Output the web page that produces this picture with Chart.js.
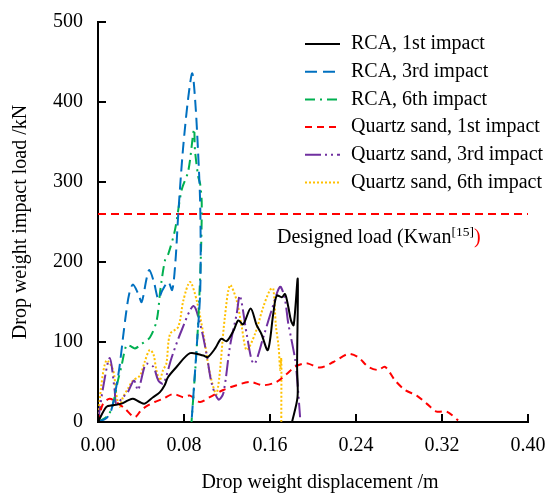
<!DOCTYPE html>
<html>
<head>
<meta charset="utf-8">
<script src="https://cdn.jsdelivr.net/npm/chart.js@4.4.1/dist/chart.umd.min.js"></script>
<style>
  body { margin: 0; background: #fff; }
  #wrap { width: 547px; height: 496px; position: relative; }
</style>
</head>
<body>
<div id="wrap"><canvas id="impactChart"></canvas></div>
<script>
// tick values
const xTicks = [0, 0.08, 0.16, 0.24, 0.32, 0.40];
const yTicks = [0, 100, 200, 300, 400, 500];
const designedLoad = 260;

// RCA, 1st impact
const rca1X = [0, 0.0078, 0.014, 0.0217, 0.028, 0.0326, 0.0388, 0.0434, 0.0512, 0.0574, 0.062, 0.0651, 0.0732, 0.0856, 0.098, 0.102, 0.109, 0.1145, 0.1197, 0.126, 0.1305, 0.135, 0.142, 0.1476, 0.152, 0.158, 0.163, 0.1662, 0.171, 0.174, 0.177, 0.1795, 0.182, 0.1858, 0.1852, 0.1856, 0.1805];
const rca1Y = [0, 19, 21, 23, 27, 29, 25, 23, 31, 37, 46, 56, 69, 86, 83, 81, 92, 104, 101, 114, 127, 122, 142, 121, 110, 90, 135, 158, 156, 160, 144, 127, 121, 179, 70, 31, 0];
// RCA, 3rd impact
const rca3X = [0, 0.008, 0.0124, 0.017, 0.020, 0.0233, 0.026, 0.029, 0.0325, 0.0375, 0.0406, 0.0453, 0.0478, 0.052, 0.0561, 0.060, 0.0654, 0.069, 0.072, 0.0747, 0.079, 0.084, 0.0877, 0.0905, 0.093, 0.0949, 0.0955, 0.095, 0.0924, 0.087];
const rca3Y = [0, 5, 15, 44, 69, 106, 135, 160, 172, 160, 150, 180, 190, 175, 154, 165, 175, 165, 200, 261, 340, 406, 436, 400, 340, 280, 220, 160, 105, 0];
// RCA, 6th impact
const rca6X = [0, 0.0093, 0.014, 0.0186, 0.0217, 0.0264, 0.030, 0.0344, 0.040, 0.0484, 0.0546, 0.058, 0.0623, 0.0654, 0.0716, 0.0778, 0.084, 0.0893, 0.0902, 0.0933, 0.095, 0.0965, 0.0955, 0.0924, 0.087];
const rca6Y = [0, 8, 23, 52, 69, 96, 95, 92, 97, 106, 127, 165, 202, 210, 240, 290, 314, 366, 340, 306, 298, 273, 200, 105, 0];
// Quartz sand, 1st impact
const qs1X = [0, 0.0047, 0.0109, 0.018, 0.0248, 0.0341, 0.0403, 0.0468, 0.0527, 0.0605, 0.070, 0.0794, 0.0856, 0.0949, 0.104, 0.1166, 0.129, 0.1414, 0.1538, 0.166, 0.1755, 0.1833, 0.191, 0.1956, 0.2065, 0.219, 0.2328, 0.242, 0.2514, 0.2607, 0.267, 0.2763, 0.2856, 0.2965, 0.3057, 0.315, 0.3244, 0.335];
const qs1Y = [0, 23, 29, 24, 17, 6, 15, 21, 25, 29, 35, 31, 33, 25, 31, 40, 46, 50, 46, 50, 60, 69, 73, 73, 68, 75, 85, 81, 69, 65, 69, 52, 40, 33, 23, 13, 13, 2];
// Quartz sand, 3rd impact
const qs3X = [0, 0.005, 0.0109, 0.0155, 0.017, 0.0233, 0.028, 0.0335, 0.0372, 0.0434, 0.0453, 0.0515, 0.0561, 0.0608, 0.0686, 0.0779, 0.0887, 0.0949, 0.101, 0.1058, 0.112, 0.1166, 0.1228, 0.129, 0.132, 0.1383, 0.143, 0.146, 0.1538, 0.1616, 0.1693, 0.1735, 0.177, 0.1795, 0.1835, 0.1855, 0.188];
const qs3Y = [0, 45, 80, 40, 23, 31, 38, 52, 40, 70, 73, 69, 52, 48, 81, 115, 145, 123, 85, 48, 28, 36, 95, 135, 158, 110, 77, 73, 106, 140, 169, 156, 123, 106, 77, 50, 6];
// Quartz sand, 6th impact
const qs6X = [0, 0.003, 0.0078, 0.014, 0.017, 0.020, 0.0233, 0.028, 0.0326, 0.039, 0.0434, 0.048, 0.0515, 0.0543, 0.0574, 0.0605, 0.0636, 0.067, 0.0747, 0.0794, 0.0856, 0.0918, 0.098, 0.1042, 0.1104, 0.118, 0.1228, 0.129, 0.1337, 0.1383, 0.146, 0.1538, 0.160, 0.163, 0.1655, 0.168, 0.1695, 0.1705, 0.1705];
const qs6Y = [0, 45, 77, 65, 35, 19, 31, 42, 52, 58, 75, 90, 85, 65, 52, 65, 73, 110, 119, 152, 175, 152, 110, 60, 35, 131, 171, 152, 119, 90, 110, 144, 165, 167, 120, 94, 65, 80, 0];

const pts = (xs, ys) => xs.map((x, i) => ({ x: x, y: ys[i] }));
const FONT = '"Liberation Serif", "Times New Roman", serif';

function series(label, xs, ys, color, dash) {
  return {
    label: label,
    data: pts(xs, ys),
    borderColor: color,
    backgroundColor: color,
    borderWidth: 2,
    borderDash: dash,
    showLine: true,
    pointRadius: 0,
    tension: 0.3
  };
}

const datasets = [
  series('RCA, 1st impact', rca1X, rca1Y, '#000000', []),
  series('RCA, 3rd impact', rca3X, rca3Y, '#0070C0', [12, 6]),
  series('RCA, 6th impact', rca6X, rca6Y, '#00B050', [10, 5, 2, 5]),
  series('Quartz sand, 1st impact', qs1X, qs1Y, '#FF0000', [7, 5]),
  series('Quartz sand, 3rd impact', qs3X, qs3Y, '#7030A0', [16, 4, 2, 4, 2, 4]),
  series('Quartz sand, 6th impact', qs6X, qs6Y, '#FFC000', [2, 2]),
  {
    label: 'designed',
    data: [{ x: xTicks[0], y: designedLoad }, { x: xTicks[xTicks.length - 1], y: designedLoad }],
    borderColor: '#FF0000',
    borderWidth: 2,
    borderDash: [8, 5],
    showLine: true,
    pointRadius: 0,
    tension: 0
  }
];

// inward tick marks, legend, x title and designed load label
const extras = {
  id: 'extras',
  afterDraw(chart) {
    const ctx = chart.ctx;
    const xs = chart.scales.x, ys = chart.scales.y;
    const area = chart.chartArea;
    ctx.save();
    ctx.strokeStyle = '#000';
    ctx.lineWidth = 2;
    ctx.setLineDash([]);
    xTicks.forEach(v => {
      const px = xs.getPixelForValue(v);
      ctx.beginPath(); ctx.moveTo(px, area.bottom); ctx.lineTo(px, area.bottom - 8); ctx.stroke();
    });
    yTicks.forEach(v => {
      const py = ys.getPixelForValue(v);
      ctx.beginPath(); ctx.moveTo(area.left, py); ctx.lineTo(area.left + 8, py); ctx.stroke();
    });

    // legend
    ctx.font = '20px ' + FONT;
    ctx.textBaseline = 'middle';
    ctx.textAlign = 'left';
    chart.data.datasets.slice(0, 6).forEach((ds, i) => {
      const y = 44 + i * 27.7;
      ctx.strokeStyle = ds.borderColor;
      ctx.lineWidth = ds.borderWidth;
      ctx.setLineDash(ds.borderDash);
      ctx.beginPath(); ctx.moveTo(305, y); ctx.lineTo(340, y); ctx.stroke();
      ctx.fillStyle = '#000';
      ctx.fillText(ds.label, 351, y);
    });

    // x axis title
    ctx.setLineDash([]);
    ctx.textAlign = 'center';
    ctx.fillText('Drop weight displacement /m', 320, 483);

    // designed load label
    ctx.textAlign = 'left';
    ctx.textBaseline = 'alphabetic';
    const t1 = 'Designed load (Kwan';
    ctx.fillText(t1, 277, 243);
    let x = 277 + ctx.measureText(t1).width;
    ctx.font = '13.5px ' + FONT;
    ctx.fillText('[15]', x, 236);
    x += ctx.measureText('[15]').width;
    ctx.font = '20px ' + FONT;
    ctx.fillStyle = '#FF0000';
    ctx.fillText(')', x, 243);
    ctx.restore();
  }
};

new Chart(document.getElementById('impactChart'), {
  type: 'scatter',
  data: { datasets: datasets },
  plugins: [extras],
  options: {
    responsive: true,
    maintainAspectRatio: false,
    animation: false,
    layout: { padding: { left: 0, right: 19, top: 22, bottom: 0 } },
    plugins: {
      legend: { display: false },
      tooltip: { enabled: false }
    },
    scales: {
      x: {
        type: 'linear',
        min: 0,
        max: 0.4,
        afterBuildTicks: s => { s.ticks = xTicks.map(v => ({ value: v })); },
        afterFit: s => { s.height = 74; s.paddingLeft = 0; s.paddingRight = 0; },
        grid: { display: false, drawTicks: false },
        border: { display: true, color: '#000', width: 2 },
        ticks: {
          color: '#000',
          padding: 12,
          maxRotation: 0,
          font: { family: FONT, size: 20 },
          callback: v => Number(v).toFixed(2)
        },
        title: { display: false }
      },
      y: {
        min: 0,
        max: 500,
        afterBuildTicks: s => { s.ticks = yTicks.map(v => ({ value: v })); },
        afterFit: s => { s.width = 98; s.paddingTop = 0; s.paddingBottom = 0; },
        grid: { display: false, drawTicks: false },
        border: { display: true, color: '#000', width: 2 },
        ticks: {
          color: '#000',
          padding: 15,
          font: { family: FONT, size: 20 }
        },
        title: {
          display: true,
          text: 'Drop weight impact load /kN',
          color: '#000',
          font: { family: FONT, size: 20 },
          padding: { top: 9, bottom: 0 }
        }
      }
    }
  }
});
</script>
</body>
</html>
